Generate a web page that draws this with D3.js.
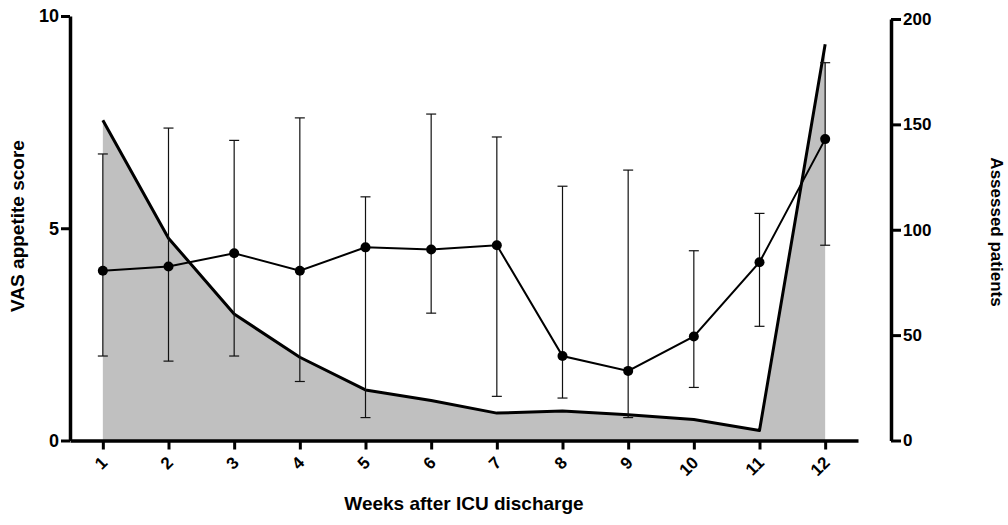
<!DOCTYPE html>
<html>
<head>
<meta charset="utf-8">
<script src="https://cdn.jsdelivr.net/npm/d3@7"></script>
<style>
  body { margin: 0; background: #fff; }
  svg { display: block; font-family: "Liberation Sans", Arial, sans-serif; }
</style>
</head>
<body>
<svg id="chart" width="1008" height="525"></svg>
<script>
// data
var weeks = [1, 2, 3, 4, 5, 6, 7, 8, 9, 10, 11, 12];
var vasMean = [4.0, 4.1, 4.41, 4.0, 4.55, 4.5, 4.6, 1.99, 1.64, 2.45, 4.2, 7.1];
var vasUpper = [6.75, 7.36, 7.07, 7.6, 5.74, 7.69, 7.15, 5.99, 6.37, 4.47, 5.35, 8.9];
var vasLower = [1.99, 1.87, 1.99, 1.39, 0.54, 3.0, 1.04, 1.0, 0.54, 1.25, 2.69, 4.6];
var patients = [152, 96, 60, 39.5, 24, 19, 13, 14, 12.2, 10, 4.7, 188];
var leftTicks = [0, 5, 10];
var rightTicks = [0, 50, 100, 150, 200];

var svg = d3.select("#chart");
var fontFam = "'Liberation Sans', Arial, sans-serif";

// scales
var x = d3.scaleLinear().domain([0.5, 12.5]).range([70, 858]);
var yLeft = d3.scaleLinear().domain([0, 10]).range([440.5, 16]);
var yRight = d3.scaleLinear().domain([0, 200]).range([440.5, 19]);

// grey area + thick line for assessed patients
var pts = weeks.map(function(w, i) { return {w: w, p: patients[i]}; });
svg.append("path")
  .datum(pts)
  .attr("fill", "#c0c0c0")
  .attr("d", d3.area()
    .x(function(d) { return x(d.w); })
    .y0(yRight(0))
    .y1(function(d) { return yRight(d.p); }));

svg.append("path")
  .datum(pts)
  .attr("fill", "none")
  .attr("stroke", "#000")
  .attr("stroke-width", 3)
  .attr("stroke-linejoin", "round")
  .attr("d", d3.line()
    .x(function(d) { return x(d.w); })
    .y(function(d) { return yRight(d.p); }));

// error bars
var vas = weeks.map(function(w, i) {
  return {w: w, m: vasMean[i], hi: vasUpper[i], lo: vasLower[i]};
});
var eb = svg.append("g").attr("stroke", "#111").attr("stroke-width", 1.2);
eb.selectAll(".v").data(vas).enter().append("line")
  .attr("x1", function(d) { return x(d.w); })
  .attr("x2", function(d) { return x(d.w); })
  .attr("y1", function(d) { return yLeft(d.hi); })
  .attr("y2", function(d) { return yLeft(d.lo); });
eb.selectAll(".hi").data(vas).enter().append("line")
  .attr("x1", function(d) { return x(d.w) - 5; })
  .attr("x2", function(d) { return x(d.w) + 5; })
  .attr("y1", function(d) { return yLeft(d.hi); })
  .attr("y2", function(d) { return yLeft(d.hi); });
eb.selectAll(".lo").data(vas).enter().append("line")
  .attr("x1", function(d) { return x(d.w) - 5; })
  .attr("x2", function(d) { return x(d.w) + 5; })
  .attr("y1", function(d) { return yLeft(d.lo); })
  .attr("y2", function(d) { return yLeft(d.lo); });

// VAS mean line + dots
svg.append("path")
  .datum(vas)
  .attr("fill", "none")
  .attr("stroke", "#000")
  .attr("stroke-width", 2)
  .attr("d", d3.line()
    .x(function(d) { return x(d.w); })
    .y(function(d) { return yLeft(d.m); }));

svg.selectAll("circle")
  .data(vas)
  .enter()
  .append("circle")
  .attr("cx", function(d) { return x(d.w); })
  .attr("cy", function(d) { return yLeft(d.m); })
  .attr("r", 5)
  .attr("fill", "#000");

// X axis
var xAxis = svg.append("g")
  .attr("transform", "translate(0," + yLeft(0) + ")")
  .call(d3.axisBottom(x).tickValues(weeks).tickFormat(d3.format("d")).tickSize(9).tickSizeOuter(0));
xAxis.selectAll("text")
  .attr("x", 0)
  .attr("y", 0)
  .attr("dy", "0.35em")
  .attr("text-anchor", "end")
  .attr("transform", "translate(1,19) rotate(-45)")
  .style("font-size", "17px");

// left axis
var leftAxis = svg.append("g")
  .attr("transform", "translate(70,0)")
  .call(d3.axisLeft(yLeft).tickValues(leftTicks).tickSize(9).tickPadding(2).tickSizeOuter(0));
leftAxis.selectAll("text")
  .style("font-size", "18px");

// right axis
var rightAxis = svg.append("g")
  .attr("transform", "translate(891,0)")
  .call(d3.axisRight(yRight).tickValues(rightTicks).tickSize(10).tickPadding(2).tickSizeOuter(0));
rightAxis.selectAll("text")
  .style("font-size", "17px");

svg.selectAll(".domain").attr("stroke", "#000").attr("stroke-width", 3.5);
svg.selectAll(".tick line").attr("stroke", "#000").attr("stroke-width", 3);
svg.selectAll(".tick text")
  .attr("fill", "#000")
  .style("font-family", fontFam)
  .style("font-weight", "bold");

// axis titles
svg.append("text")
  .attr("text-anchor", "middle")
  .attr("x", 464)
  .attr("y", 510)
  .text("Weeks after ICU discharge")
  .style("font-size", "19px")
  .style("font-weight", "bold");

svg.append("text")
  .attr("text-anchor", "middle")
  .attr("transform", "translate(24,226) rotate(-90)")
  .text("VAS appetite score")
  .style("font-size", "19px")
  .style("font-weight", "bold");

svg.append("text")
  .attr("text-anchor", "middle")
  .attr("transform", "translate(991,232) rotate(90)")
  .text("Assessed patients")
  .style("font-size", "17px")
  .style("font-weight", "bold");
</script>
</body>
</html>
